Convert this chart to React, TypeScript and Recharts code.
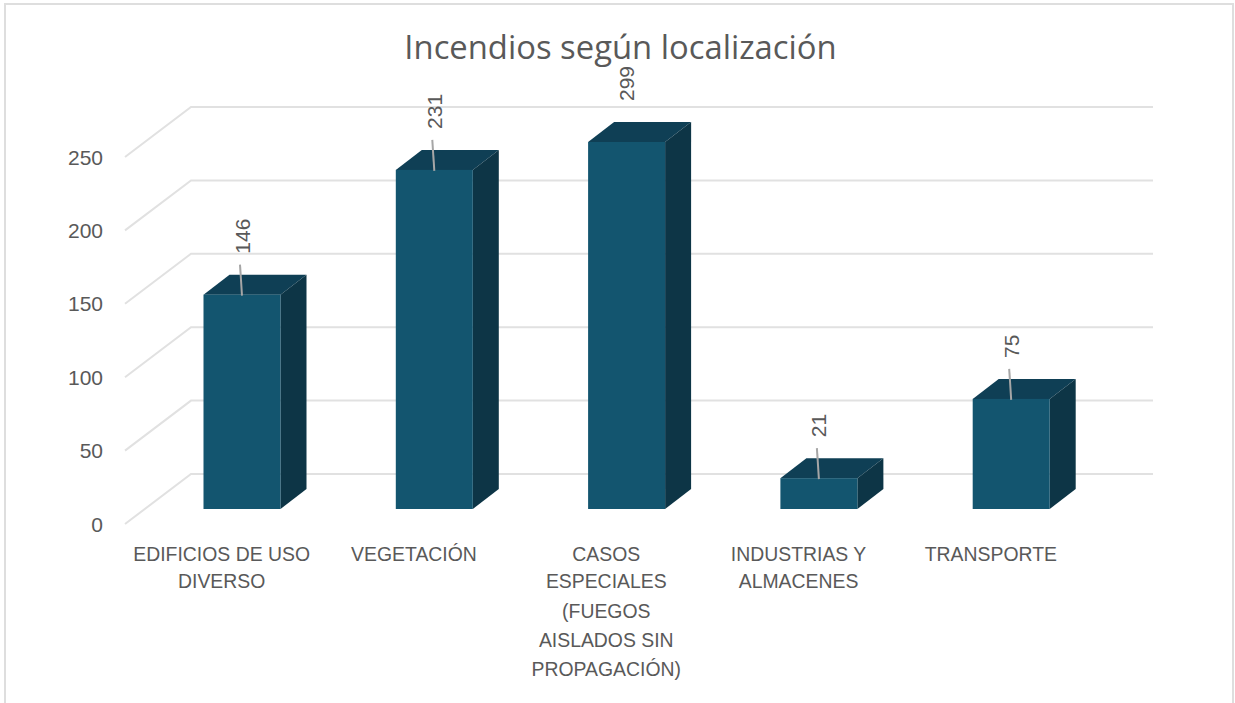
import React from "react";
import { BarChart, Bar, XAxis, YAxis, CartesianGrid } from "recharts";

const titleText = "Incendios según localización";
const categories = [
  "EDIFICIOS DE USO DIVERSO",
  "VEGETACIÓN",
  "CASOS ESPECIALES (FUEGOS AISLADOS SIN PROPAGACIÓN)",
  "INDUSTRIAS Y ALMACENES",
  "TRANSPORTE",
];
const categoryLines = [
  ["EDIFICIOS DE USO", "DIVERSO"],
  ["VEGETACIÓN"],
  ["CASOS", "ESPECIALES", "(FUEGOS", "AISLADOS SIN", "PROPAGACIÓN)"],
  ["INDUSTRIAS Y", "ALMACENES"],
  ["TRANSPORTE"],
];
const values = [146, 231, 299, 21, 75];
const yTicks = [0, 50, 100, 150, 200, 250];
const axisMax = 250;

const data = categories.map((name, i) => ({ name, value: values[i] }));

const FONT = "'Liberation Sans', Arial, sans-serif";
const TEXT = "#595959";
const GRID = "#e1e1e1";
const FRONT = "#13556f";
const TOP = "#0f3f55";
const SIDE = "#0d3546";
const DX = 26;
const DY = 20;
const LINE_Y = [561, 588, 617.5, 647, 676];

function GridLine(props: any) {
  const { x2, y1 } = props;
  const back = y1 - 35;
  const front = y1 + 15;
  const bx = 191;
  return (
    <polyline
      points={`125,${front} ${bx},${back} ${x2 + 46},${back}`}
      fill="none"
      stroke={GRID}
      strokeWidth={2}
    />
  );
}

function YTick(props: any) {
  const { y, payload } = props;
  return (
    <text x={103} y={y + 15} textAnchor="end" dominantBaseline="central" fontFamily={FONT} fontSize={21} fill={TEXT}>
      {payload.value}
    </text>
  );
}

function XTick(props: any) {
  const { x, payload, index } = props;
  const lines = categoryLines[index] || [payload.value];
  return (
    <text textAnchor="middle" fontFamily={FONT} fontSize={19.4} fill={TEXT}>
      {lines.map((l: string, i: number) => (
        <tspan key={i} x={x - 20} y={LINE_Y[i]}>
          {l}
        </tspan>
      ))}
    </text>
  );
}

function Bar3D(props: any) {
  const { x, y, width, height, payload } = props;
  const cx = x + width / 2;
  const capped = payload.value > axisMax;
  return (
    <g>
      <polygon points={`${x},${y} ${x + DX},${y - DY} ${x + width + DX},${y - DY} ${x + width},${y}`} fill={TOP} />
      <polygon
        points={`${x + width},${y} ${x + width + DX},${y - DY} ${x + width + DX},${y + height - DY} ${x + width},${y + height}`}
        fill={SIDE}
      />
      <rect x={x} y={y} width={width} height={height} fill={FRONT} />
      {!capped && <line x1={cx} y1={y + 1} x2={cx - 2} y2={y - 30} stroke="#a6a6a6" strokeWidth={2} />}
      <text
        transform={`translate(${cx},${y - 41}) rotate(-90)`}
        textAnchor="start"
        dominantBaseline="central"
        fontFamily={FONT}
        fontSize={21}
        fill={TEXT}
      >
        {payload.value}
      </text>
    </g>
  );
}

export default function App() {
  return (
    <div style={{ position: "absolute", left: 0, top: 0, width: 1235, height: 703, overflow: "hidden", background: "#fff" }}>
      <div
        style={{
          position: "absolute",
          left: 4,
          top: 3,
          width: 1226,
          height: 760,
          border: "2px solid #dedede",
          boxSizing: "content-box",
        }}
      />
      <div
        style={{
          position: "absolute",
          left: 0,
          width: 1241,
          top: 26,
          textAlign: "center",
          fontFamily: "'Open Sans', sans-serif",
          fontSize: 32.8,
          lineHeight: "42px",
          color: TEXT,
          whiteSpace: "nowrap",
        }}
      >
        {titleText}
      </div>
      <div style={{ position: "absolute", left: 0, top: 0 }}>
        <BarChart width={1235} height={703} data={data} margin={{ top: 142, right: 128, bottom: 0, left: 0 }} barSize={77}>
          <CartesianGrid vertical={false} horizontal={(p: any) => <GridLine key={p.key ?? p.index} {...p} />} />
          <XAxis dataKey="name" axisLine={false} tickLine={false} height={194} interval={0} tick={(p: any) => <XTick {...p} />} />
          <YAxis
            width={145.5}
            domain={[0, axisMax]}
            ticks={yTicks}
            axisLine={false}
            tickLine={false}
            interval={0}
            tick={(p: any) => <YTick {...p} />}
          />
          <Bar dataKey={(d: any) => Math.min(d.value, axisMax)} isAnimationActive={false} shape={(p: any) => <Bar3D {...p} />} />
        </BarChart>
      </div>
    </div>
  );
}
